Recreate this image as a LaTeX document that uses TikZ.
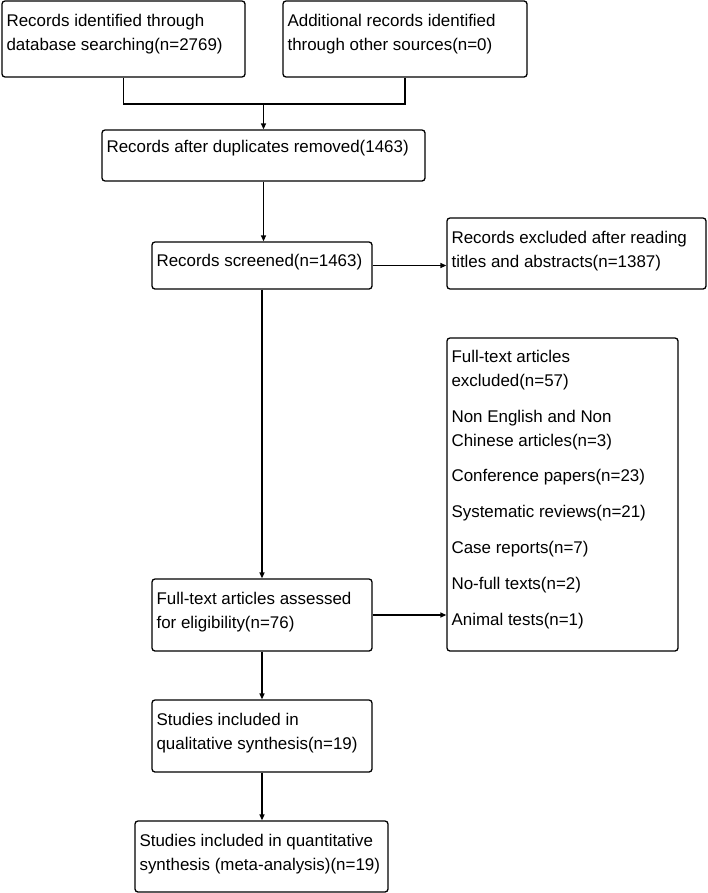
\documentclass[tikz,border=0pt]{standalone}
\usepackage{fontspec}
\setmainfont{Liberation Sans}
\usetikzlibrary{positioning, arrows.meta}
\tikzset{
    box/.style={draw, line width=1.3bp, rounded corners=3bp, inner sep=0pt},
    txt/.style={anchor=north west, inner sep=0pt, align=left, font=\fontsize{17}{24}\selectfont},
    link/.style={line width=1.3bp, -{Triangle[length=6bp, width=5bp]}}
}
\begin{document}
\begin{tikzpicture}[x=1bp, y=-1bp]
    \useasboundingbox (0,0) rectangle (708,893);
    % Boxes
    \node[box, minimum width=243bp, minimum height=76bp] (ident) at (123.5,39) {};
    \node[box, minimum width=244bp, minimum height=76bp] (other) at (405,39) {};
    \node[box, minimum width=323bp, minimum height=51bp] (dup) at (263.5,155.5) {};
    \node[box, minimum width=220bp, minimum height=47bp] (screen) at (262,265.5) {};
    \node[box, minimum width=259bp, minimum height=71bp] (excl) at (576.5,253.5) {};
    \node[box, minimum width=231bp, minimum height=313bp] (fexcl) at (562.5,494.5) {};
    \node[box, minimum width=220bp, minimum height=72bp] (full) at (262,615) {};
    \node[box, minimum width=220bp, minimum height=72bp] (qual) at (262,736) {};
    \node[box, minimum width=253bp, minimum height=71bp] (quant) at (261.5,856.5) {};

    % Texts
    \node[txt] (identT) at ([shift={(5,13.5)}]ident.north west) {Records identified through\\database searching(n=2769)};
    \node[txt] (otherT) at ([shift={(5,13.5)}]other.north west) {Additional records identified\\through other sources(n=0)};
    \node[txt] (dupT) at ([shift={(5,10.5)}]dup.north west) {Records after duplicates removed(1463)};
    \node[txt] (screenT) at ([shift={(5,12.5)}]screen.north west) {Records screened(n=1463)};
    \node[txt] (exclT) at ([shift={(5,13.5)}]excl.north west) {Records excluded after reading\\titles and abstracts(n=1387)};
    \node[txt] (fexclT) at ([shift={(5,12.5)}]fexcl.north west) {Full-text articles\\excluded(n=57)\\[12bp]Non English and Non\\Chinese articles(n=3)\\[12bp]Conference papers(n=23)\\[12bp]Systematic reviews(n=21)\\[12bp]Case reports(n=7)\\[12bp]No-full texts(n=2)\\[12bp]Animal tests(n=1)};
    \node[txt] (fullT) at ([shift={(5,13.5)}]full.north west) {Full-text articles assessed\\for eligibility(n=76)};
    \node[txt] (qualT) at ([shift={(5,13.5)}]qual.north west) {Studies included in\\qualitative synthesis(n=19)};
    \node[txt] (quantT) at ([shift={(5,13.5)}]quant.north west) {Studies included in quantitative\\synthesis (meta-analysis)(n=19)};

    % Connectors
    \coordinate (joinL) at (ident.south |- 0,104);
    \coordinate (joinR) at (other.south |- 0,104);
    \coordinate (joinM) at (dup.north |- 0,104);
    \draw[line width=1.3bp] (ident.south) -- (joinL) -- (joinR) -- (other.south);
    \draw[link] (joinM) -- (dup.north);
    \draw[link] (dup.south) -- (dup.south |- screen.north);
    \draw[link] (screen.east) -- (excl.west |- screen.east);
    \draw[link] (screen.south) -- (full.north);
    \draw[link] (full.east) -- (fexcl.west |- full.east);
    \draw[link] (full.south) -- (qual.north);
    \draw[link] (qual.south) -- (qual.south |- quant.north);
\end{tikzpicture}
\end{document}
